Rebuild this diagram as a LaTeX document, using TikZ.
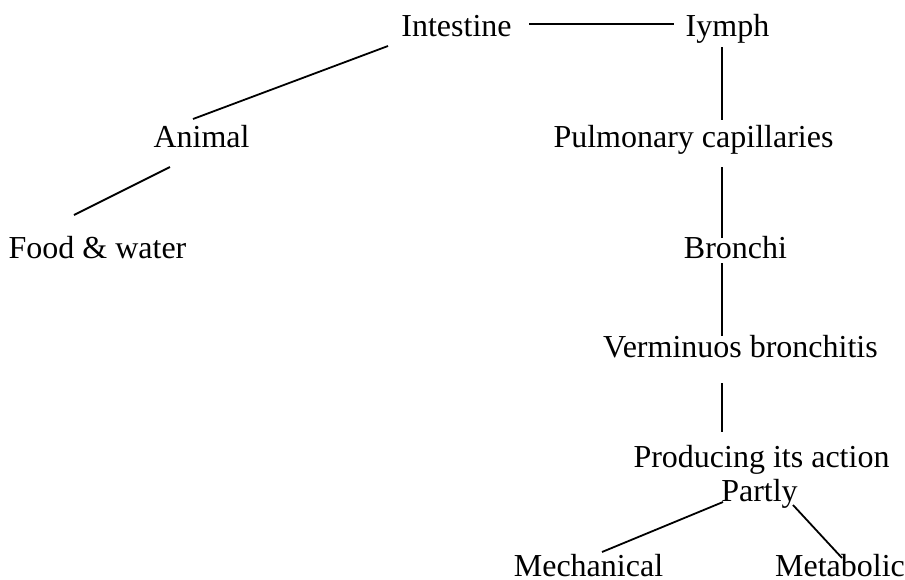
\documentclass[tikz,border=0pt]{standalone}
\usepackage{fontspec}
\setmainfont{Liberation Serif}
\begin{document}
\begin{tikzpicture}[x=1pt,y=-1pt,
  lbl/.style={anchor=base,inner sep=0pt,font=\fontsize{32}{38}\selectfont},
  link/.style={line width=1.8pt}]
\useasboundingbox (0,0) rectangle (905,579);
% labels
\node[lbl] (intestine) at (456.5,36) {Intestine};
\node[lbl] (lymph) at (727.5,36) {Iymph};
\node[lbl] (animal) at (201.5,147) {Animal};
\node[lbl] (pulm) at (693.5,147) {Pulmonary capillaries};
\node[lbl] (food) at (97.5,258) {Food \& water};
\node[lbl] (bronchi) at (735.5,258) {Bronchi};
\node[lbl] (verm) at (740.5,357) {Verminuos bronchitis};
\node[lbl] (prod) at (761.5,467) {Producing its action};
\node[lbl] (partly) at (759.5,501) {Partly};
\node[lbl] (mech) at (588.5,576) {Mechanical};
\node[lbl] (meta) at (840,576) {Metabolic};
% connector ends
\coordinate (il1) at (529,24);   \coordinate (il2) at (674,24);
\coordinate (ia1) at (388,46);   \coordinate (ia2) at (193,119);
\coordinate (af1) at (170,167);  \coordinate (af2) at (74,215);
\coordinate (lp1) at (722,47);   \coordinate (lp2) at (722,120);
\coordinate (pb1) at (722,167);  \coordinate (pb2) at (722,238);
\coordinate (bv1) at (722,263);  \coordinate (bv2) at (722,336);
\coordinate (vp1) at (722,383);  \coordinate (vp2) at (722,432);
\coordinate (pm1) at (723,502);  \coordinate (pm2) at (602,552);
\coordinate (pt1) at (793,505);  \coordinate (pt2) at (842,558);
% connectors
\draw[link] (il1) -- (il2);
\draw[link] (ia1) -- (ia2);
\draw[link] (af1) -- (af2);
\draw[link] (lp1) -- (lp2);
\draw[link] (pb1) -- (pb2);
\draw[link] (bv1) -- (bv2);
\draw[link] (vp1) -- (vp2);
\draw[link] (pm1) -- (pm2);
\draw[link] (pt1) -- (pt2);
\end{tikzpicture}
\end{document}
